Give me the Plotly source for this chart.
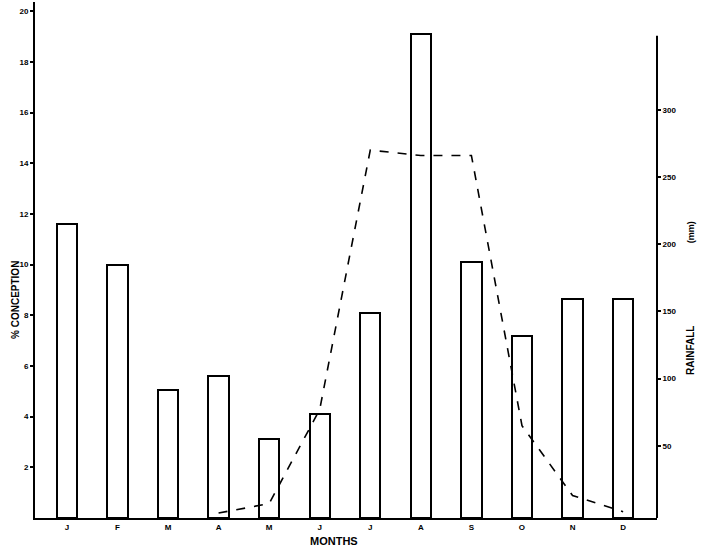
import plotly.graph_objects as go

months = ["J", "F", "M", "A", "M", "J", "J", "A", "S", "O", "N", "D"]
conception = [11.6, 10.0, 5.05, 5.6, 3.1, 4.1, 8.1, 19.1, 10.1, 7.2, 8.65, 8.65]
rain_months_idx = [3, 4, 5, 6, 7, 8, 9, 10, 11]
rainfall = [0, 7, 77, 270, 266, 266, 65, 13, 1]
left_ticks = [2, 4, 6, 8, 10, 12, 14, 16, 18, 20]
right_ticks = [50, 100, 150, 200, 250, 300]

x_idx = list(range(len(months)))

fig = go.Figure()
fig.add_trace(go.Bar(
    x=x_idx, y=conception, width=0.4,
    marker=dict(color="white", line=dict(color="black", width=2)),
    showlegend=False,
))
fig.add_trace(go.Scatter(
    x=rain_months_idx, y=rainfall, yaxis="y2", mode="lines",
    line=dict(color="black", width=1.6, dash="dash"),
    showlegend=False,
))

tickfont = dict(family="Liberation Sans", size=8, color="black", weight="bold")

fig.update_layout(
    width=703, height=550,
    margin=dict(l=35, r=46, t=2, b=32, autoexpand=False),
    paper_bgcolor="white", plot_bgcolor="white",
    bargap=0,
    xaxis=dict(
        range=[-0.63, 11.67], tickvals=x_idx, ticktext=months, automargin=False,
        showgrid=False, zeroline=False, showline=True, linecolor="black", linewidth=2,
        ticks="", tickfont=tickfont,
    ),
    yaxis=dict(
        range=[0, 20.36], tickvals=left_ticks, showgrid=False, zeroline=False,
        automargin=False, showline=True, linecolor="black", linewidth=2,
        ticks="outside", ticklen=3, tickwidth=1.5, tickcolor="black", tickfont=tickfont,
    ),
    yaxis2=dict(
        overlaying="y", side="right", range=[-3.7, 380.2], tickvals=right_ticks,
        automargin=False, showgrid=False, zeroline=False, showline=False,
        ticks="outside", ticklen=3, tickwidth=1.5, tickcolor="black", tickfont=tickfont,
    ),
    shapes=[dict(type="line", xref="paper", x0=1, x1=1, yref="y2", y0=-3.7, y1=355,
                 line=dict(color="black", width=2))],
    annotations=[
        dict(text="% CONCEPTION", xref="paper", yref="paper", x=-0.031, y=0.422,
             textangle=-90, showarrow=False, xanchor="center", yanchor="middle",
             font=dict(family="Liberation Sans", size=10, color="black", weight="bold")),
        dict(text="RAINFALL", xref="paper", yref="paper", x=1.055, y=0.324,
             textangle=-90, showarrow=False, xanchor="center", yanchor="middle",
             font=dict(family="Liberation Sans", size=10, color="black", weight="bold")),
        dict(text="(mm)", xref="paper", yref="paper", x=1.055, y=0.554,
             textangle=-90, showarrow=False, xanchor="center", yanchor="middle",
             font=dict(family="Liberation Sans", size=9, color="black", weight="bold")),
        dict(text="MONTHS", xref="paper", yref="paper", x=0.481, y=-0.044,
             showarrow=False, xanchor="center", yanchor="middle",
             font=dict(family="Liberation Sans", size=11, color="black", weight="bold")),
    ],
)

fig.write_html(
    "out.html",
    config={"displayModeBar": False},
    post_script="document.body.style.margin='0';document.body.style.padding='0';",
)
